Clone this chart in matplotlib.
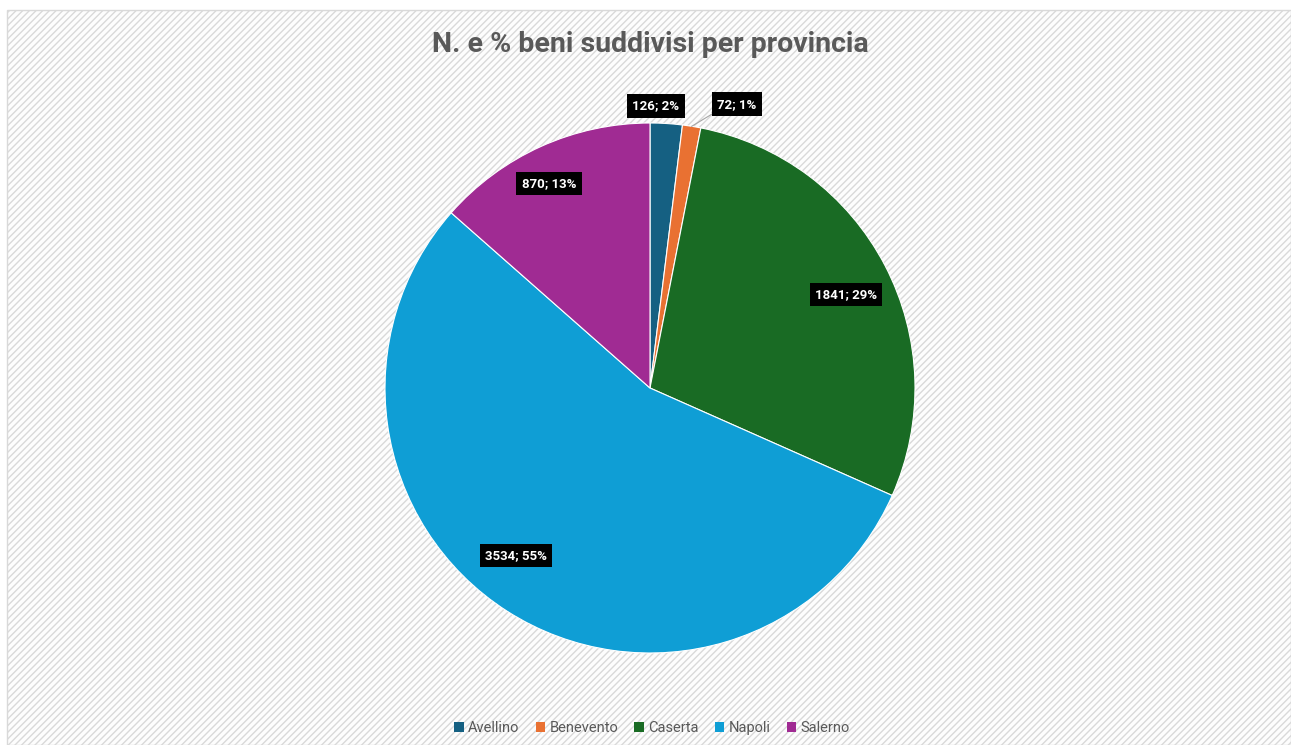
import numpy as np
import matplotlib
matplotlib.use("Agg")
import matplotlib.pyplot as plt
from matplotlib.patches import Rectangle

title = "N. e % beni suddivisi per provincia"
categories = ["Avellino", "Benevento", "Caserta", "Napoli", "Salerno"]
values = [126, 72, 1841, 3534, 870]
percents = ["2%", "1%", "29%", "55%", "13%"]
colors = ["#156082", "#E97132", "#196B24", "#0F9ED5", "#A02B93"]

W, H = 1291, 745
fig = plt.figure(figsize=(W / 100, H / 100), dpi=100)
fig.patch.set_facecolor("white")
plt.rcParams["hatch.linewidth"] = 1.0
plt.rcParams["hatch.color"] = "#f3f3f3"

ax = fig.add_axes([0, 0, 1, 1])
ax.set_xlim(0, W)
ax.set_ylim(0, H)
ax.axis("off")

# chart area background with faint diagonal texture
bg = Rectangle((7, 0), W - 7, H - 10, facecolor="#fdfdfd", edgecolor="#d9d9d9",
               hatch="/////", linewidth=1.0, zorder=0)
ax.add_patch(bg)

cx, cy, R = 650, H - 388, 265
wedges, _ = ax.pie(values, colors=colors, startangle=90, counterclock=False,
                   center=(cx, cy), radius=R, frame=True,
                   wedgeprops=dict(edgecolor="white", linewidth=0.8),
                   labels=None)
ax.set_xlim(0, W)
ax.set_ylim(0, H)
ax.set_aspect("equal")
ax.axis("off")

label_r = [1.065, 1.12, 0.82, 0.81, 0.86]
label_dang = [-2.3, 8, 2, 6, -2]
total = sum(values)
cum = 0
for i, v in enumerate(values):
    mid = (cum + v / 2) / total * 360
    cum += v
    ang = np.deg2rad(90 - mid - label_dang[i])
    x = cx + R * label_r[i] * np.cos(ang)
    y = cy + R * label_r[i] * np.sin(ang)
    if i == 1:
        xe = cx + R * np.cos(np.deg2rad(90 - mid))
        ye = cy + R * np.sin(np.deg2rad(90 - mid))
        ax.plot([xe, x - 22, x - 25], [ye, y - 8, y - 8], color="#a6a6a6", lw=0.8, zorder=3)
    ax.text(x, y, f"{v}; {percents[i]}", ha="center", va="center", color="white",
            fontsize=9.5, fontweight="bold", family="Roboto", zorder=5,
            bbox=dict(boxstyle="square,pad=0.4", facecolor="black", edgecolor="none"))

ax.text(650, H - 45, title, ha="center", va="center", fontsize=20.5, fontweight="bold",
        color="#595959", family="Roboto")

handles = [Rectangle((0, 0), 1, 1, facecolor=c) for c in colors]
leg = fig.legend(handles, categories, loc="center", bbox_to_anchor=(652 / W, 1 - 728 / H),
                 ncol=5, frameon=False, handlelength=0.65, handleheight=0.65,
                 handletextpad=0.3, columnspacing=1.1, prop={"family": "Roboto", "size": 10.5})
for t in leg.get_texts():
    t.set_color("#595959")

fig.savefig("out.png", dpi=100)
